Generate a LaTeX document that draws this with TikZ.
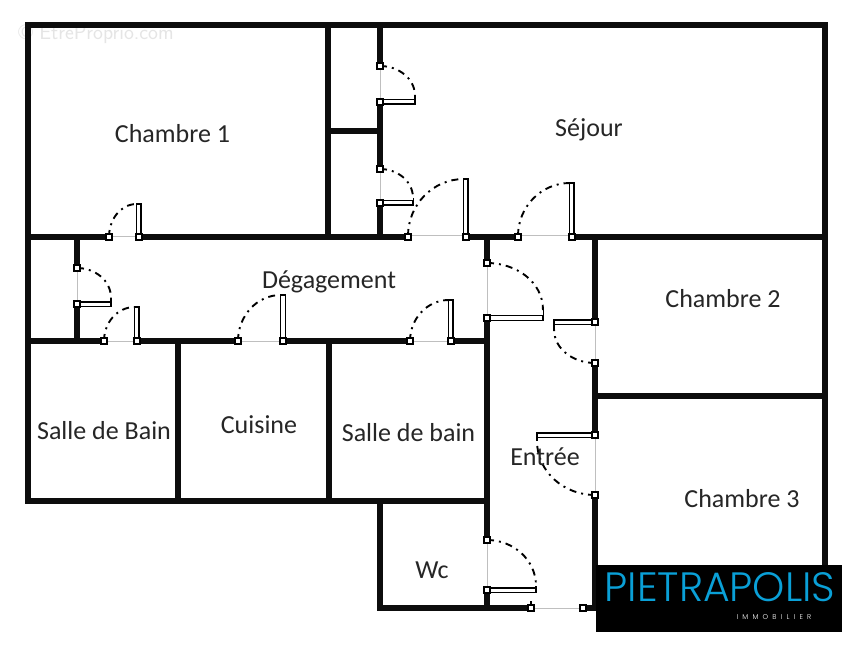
\documentclass[tikz,border=0pt]{standalone}
\usepackage{fontspec}
\setmainfont{Carlito}
\newfontfamily\logofont{Poppins Light}
\tikzset{
  wall/.style={line width=5.3pt,line cap=rect,line join=miter,draw=black!95},
  opening/.style={line width=1pt,draw=black!25},
  leaf/.style={draw=black,fill=white,line width=1.5pt},
  stopbar/.style={draw=black,line width=1.8pt},
  swing/.style={draw=black,line width=1.9pt,dash pattern=on 7pt off 5pt on 2pt off 5pt},
  pivot/.style={draw=black,fill=white,line width=1.5pt},
  room/.style={font=\fontsize{26}{28}\selectfont,text=black!85,inner sep=0pt}
}
\newcommand{\pivotat}[2]{\draw[pivot] (#1-2.8,#2-2.8) rectangle (#1+2.8,#2+2.8);}
\begin{document}
\begin{tikzpicture}[x=1pt,y=-1pt]
\useasboundingbox (0,0) rectangle (862,652);
\fill[white] (0,0) rectangle (862,652);
\node[text=black!10,font=\fontsize{21}{23}\selectfont\sffamily,inner sep=0pt] (mark) at (96,34) {© EtreProprio.com};
% door openings
\draw[opening] (380,66) -- (380,102);
\draw[opening] (380,169) -- (380,203);
\draw[opening] (408,236) -- (466,236);
\draw[opening] (518,236) -- (572,236);
\draw[opening] (109,237) -- (139,237);
\draw[opening] (77,268) -- (77,304);
\draw[opening] (104,341) -- (137,341);
\draw[opening] (238,341) -- (283,341);
\draw[opening] (410,341) -- (451,341);
\draw[opening] (487,263) -- (487,318);
\draw[opening] (595,322) -- (595,363);
\draw[opening] (595,435) -- (595,495);
\draw[opening] (487,540) -- (487,590);
\draw[opening] (531,608) -- (583,608);
% walls
\draw[wall] (28,25) -- (825,25) -- (825,566);
\draw[wall] (28,25) -- (28,501) -- (487,501);
\draw[wall] (328,25) -- (328,237);
\draw[wall] (328,131) -- (380,131);
\draw[wall] (380,25) -- (380,66);
\draw[wall] (380,102) -- (380,169);
\draw[wall] (380,203) -- (380,237);
\draw[wall] (28,237) -- (109,237);
\draw[wall] (139,237) -- (408,237);
\draw[wall] (466,237) -- (518,237);
\draw[wall] (572,237) -- (825,237);
\draw[wall] (77,237) -- (77,268);
\draw[wall] (77,304) -- (77,341);
\draw[wall] (28,341) -- (104,341);
\draw[wall] (137,341) -- (238,341);
\draw[wall] (283,341) -- (410,341);
\draw[wall] (451,341) -- (487,341);
\draw[wall] (178,341) -- (178,501);
\draw[wall] (329,341) -- (329,501);
\draw[wall] (487,237) -- (487,263);
\draw[wall] (487,318) -- (487,540);
\draw[wall] (487,590) -- (487,608);
\draw[wall] (595,237) -- (595,322);
\draw[wall] (595,363) -- (595,435);
\draw[wall] (595,396) -- (825,396);
\draw[wall] (595,495) -- (595,608);
\draw[wall] (380,501) -- (380,608) -- (531,608);
\draw[wall] (583,608) -- (595,608);
% door leaves
\draw[leaf] (380,99.5) rectangle (415,104);
\draw[stopbar] (415,96) -- (415,105);
\draw[leaf] (380,200.5) rectangle (413,205);
\draw[stopbar] (413.5,198) -- (413.5,206);
\draw[leaf] (463.5,179) rectangle (468,236);
\draw[leaf] (569.5,183) rectangle (574,236);
\draw[leaf] (136.5,204) rectangle (141,237);
\draw[leaf] (77,302) rectangle (111,306.5);
\draw[stopbar] (111,298) -- (111,307);
\draw[leaf] (134.5,307) rectangle (139,341);
\draw[leaf] (280.5,295) rectangle (285.5,341);
\draw[leaf] (448.5,300) rectangle (453,341);
\draw[leaf] (487,315.5) rectangle (543,320.5);
\draw[stopbar] (543.5,310) -- (543.5,321);
\draw[leaf] (554,320) rectangle (595,324.5);
\draw[stopbar] (554,320) -- (554,329);
\draw[leaf] (537,433) rectangle (595,437.5);
\draw[stopbar] (537,433) -- (537,441);
\draw[leaf] (487,588) rectangle (536,592.5);
\draw[stopbar] (536,586) -- (536,593);
% door swings
\draw[swing] (380,66) to[out=0,in=90] (415,96);
\draw[swing] (380,169) to[out=0,in=90] (413,198);
\draw[swing] (408,236) to[out=90,in=180] (464,179);
\draw[swing] (518,236) to[out=90,in=180] (570,183);
\draw[swing] (109,237) to[out=90,in=180] (137,204);
\draw[swing] (77,268) to[out=0,in=90] (111,298);
\draw[swing] (104,341) to[out=90,in=180] (135,307);
\draw[swing] (238,341) to[out=90,in=180] (281,295);
\draw[swing] (410,341) to[out=90,in=180] (449,300);
\draw[swing] (487,263) to[out=0,in=90] (543,310);
\draw[swing] (595,363) to[out=180,in=-90] (554,329);
\draw[swing] (595,495) to[out=180,in=-90] (537,441);
\draw[swing] (487,540) to[out=0,in=90] (536,586);
\draw[swing] (531,608) -- (531,600);
% hinge squares
\pivotat{380}{66}\pivotat{380}{102}\pivotat{380}{169}\pivotat{380}{203}
\pivotat{408}{237}\pivotat{466}{237}\pivotat{518}{237}\pivotat{572}{237}
\pivotat{109}{237}\pivotat{139}{237}\pivotat{77}{268}\pivotat{77}{304}
\pivotat{104}{341}\pivotat{137}{341}\pivotat{238}{341}\pivotat{283}{341}
\pivotat{410}{341}\pivotat{451}{341}\pivotat{487}{263}\pivotat{487}{318}
\pivotat{595}{322}\pivotat{595}{363}\pivotat{595}{435}\pivotat{595}{495}
\pivotat{487}{540}\pivotat{487}{590}\pivotat{531}{608}\pivotat{583}{608}
% room labels
\node[room] (ch1) at (172.5,134) {Chambre 1};
\node[room] (sej) at (589,129.5) {Séjour};
\node[room] (deg) at (329,282) {Dégagement};
\node[room] (ch2) at (723,299) {Chambre 2};
\node[room] (ch3) at (742,499) {Chambre 3};
\node[room] (sdb1) at (104,431) {Salle de Bain};
\node[room] (cui) at (259,425) {Cuisine};
\node[room] (sdb2) at (408.5,433) {Salle de bain};
\node[room] (ent) at (545,456.5) {Entrée};
\node[room] (wc) at (432,570) {Wc};
% logo
\fill[black] (596,565) rectangle (842,632);
\node[text={rgb,255:red,10;green,160;blue,215},font=\fontsize{41}{43}\logofont,inner sep=0pt] (logo) at (720,587) {PIETRAPOLIS};
\node[text=white,font=\fontsize{7}{9}\logofont,inner sep=0pt] (sub) at (774,617) {\addfontfeatures{LetterSpace=60}IMMOBILIER};
\end{tikzpicture}
\end{document}
